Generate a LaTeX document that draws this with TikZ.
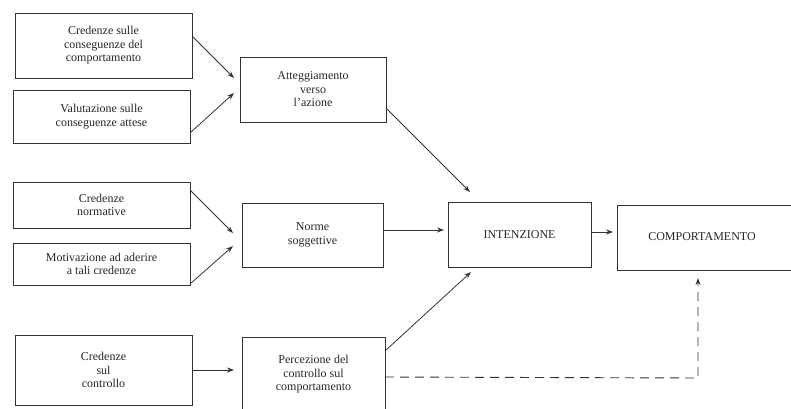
\documentclass[tikz,border=0pt]{standalone}
\usepackage{fontspec}
\setmainfont{Liberation Serif}
\usetikzlibrary{arrows.meta}
\begin{document}
\begin{tikzpicture}[x=1pt,y=-1pt,
  box/.style={draw=black!80,line width=1pt,align=center,font=\fontsize{12}{13.5}\selectfont,text=black!85,inner sep=0pt},
  arr/.style={draw=black!80,line width=0.8pt,-{Stealth[length=7pt,width=5pt]}},
  dashline/.style={draw=black!80,line width=0.9pt,dash pattern=on 9pt off 6pt,-{Stealth[length=7pt,width=5pt]}}]
\useasboundingbox (0,0) rectangle (791,408);
\clip (0,0) rectangle (791,408);
% boxes
\node[box,minimum width=177pt,minimum height=65pt] (a) at (103.5,45.5) {Credenze sulle\\conseguenze del\\comportamento};
\node[box,minimum width=177pt,minimum height=53pt] (b) at (101.5,116.5) {Valutazione sulle\\conseguenze attese};
\node[box,minimum width=146pt,minimum height=65pt] (c) at (313,89.5) {Atteggiamento\\verso\\l'azione};
\node[box,minimum width=177pt,minimum height=46pt] (d) at (101.5,205) {Credenze\\normative};
\node[box,minimum width=177pt,minimum height=42pt] (e) at (101.5,264) {Motivazione ad aderire\\a tali credenze};
\node[box,minimum width=141pt,minimum height=64pt] (f) at (312.5,235) {Norme\\soggettive};
\node[box,minimum width=177pt,minimum height=70pt] (g) at (103.5,370) {Credenze\\sul\\controllo};
\node[box,minimum width=143pt,minimum height=75pt] (h) at (313.5,374.5) {Percezione del\\controllo sul\\comportamento};
\node[box,minimum width=143pt,minimum height=65pt] (i) at (519.5,234.5) {INTENZIONE};
\node[box,minimum width=183pt,minimum height=65pt] (j) at (708.5,237.5) {};
\node[font=\fontsize{12}{13.5}\selectfont,text=black!85,inner sep=0pt] (jt) at (702,237) {COMPORTAMENTO};
% anchor coordinates
\coordinate (a1) at (192,36);
\coordinate (b1) at (190,133);
\coordinate (c0) at (234,78);
\coordinate (c0b) at (234,93);
\coordinate (c1) at (386,108);
\coordinate (d1) at (190,190);
\coordinate (e1) at (190,284);
\coordinate (f0) at (233,233);
\coordinate (f0b) at (233,246);
\coordinate (f1) at (383,230);
\coordinate (i0) at (444,230);
\coordinate (i0t) at (470,192);
\coordinate (i0b) at (471,272);
\coordinate (i1) at (591,232);
\coordinate (j0) at (613,232);
\coordinate (g1) at (192,370);
\coordinate (h0) at (234,370);
\coordinate (h1) at (385,351);
\coordinate (h2) at (385,377);
\coordinate (k) at (698,378);
\coordinate (j1) at (698,278);
% connectors
\draw[arr] (a1) -- (c0);
\draw[arr] (b1) -- (c0b);
\draw[arr] (d1) -- (f0);
\draw[arr] (e1) -- (f0b);
\draw[arr] (c1) -- (i0t);
\draw[arr] (f1) -- (i0);
\draw[arr] (h1) -- (i0b);
\draw[arr] (i1) -- (j0);
\draw[arr] (g1) -- (h0);
\draw[dashline] (h2) -- (k) -- (j1);
\end{tikzpicture}
\end{document}
